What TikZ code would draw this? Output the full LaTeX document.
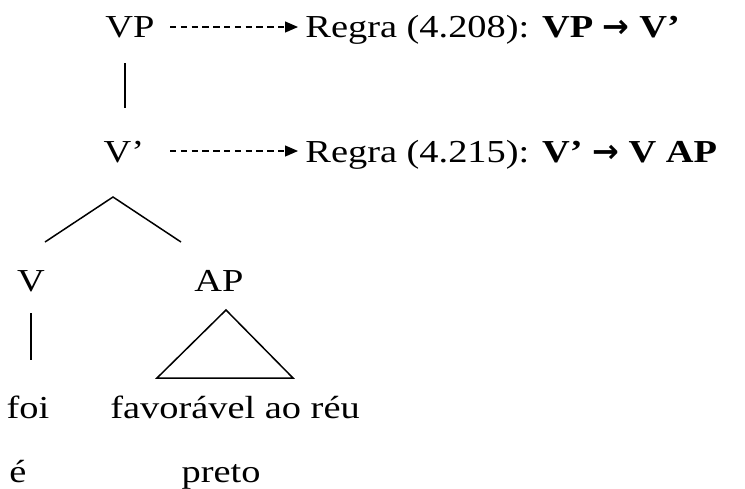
\documentclass[tikz,border=0pt]{standalone}
\usepackage{amsmath}
\usepackage{fontspec}
\setmainfont{Liberation Serif}[FakeStretch=1.2]
\newfontfamily\arrowfont{DejaVu Sans}
\usepackage{tikz}
\usetikzlibrary{arrows.meta}
\usetikzlibrary{calc}

\begin{document}
\begin{tikzpicture}[x=0.5pt,y=-0.5pt,
    lbl/.style={anchor=base, inner sep=0pt,
      font=\fontsize{16}{19}\selectfont},
    rulelbl/.style={lbl, anchor=base west},
    branch/.style={line width=0.75pt},
    rulearrow/.style={line width=0.65pt, dash pattern=on 3.2pt off 2.2pt,
      -{Triangle[length=6.5pt,width=5.5pt]}}]
      \useasboundingbox (0,0) rectangle (745,488);

      % tree labels
      \node[lbl] (vp) at (130,37) {VP};
      \node[lbl] (vbar) at (124,162) {V’};
      \node[lbl] (v) at (31,291) {V};
      \node[lbl] (ap) at (219,291) {AP};
      \node[lbl] (foi) at (28,418) {foi};
      \node[lbl] (fav) at (235,418) {favorável ao réu};
      \node[lbl] (e) at (18,482) {é};
      \node[lbl] (preto) at (221,482) {preto};

      % rules
      \node[rulelbl] (rule1) at (305,37) {Regra (4.208): \textbf{VP {\arrowfont\bfseries →} V’}};
      \node[rulelbl] (rule2) at (305,162) {Regra (4.215): \textbf{V’ {\arrowfont\bfseries →} V AP}};

      % branch points
      \coordinate (vptop) at (125,63);
      \coordinate (vpbot) at (125,108);
      \coordinate (top) at (113,197);
      \coordinate (left) at (45,242);
      \coordinate (right) at (181,242);
      \coordinate (vtop) at (31,313);
      \coordinate (vbot) at (31,360);
      \coordinate (apex) at (226,310);
      \coordinate (baseL) at (157,378);
      \coordinate (baseR) at (293,378);
      \coordinate (from1) at (170,27);
      \coordinate (from2) at (170,151);

      % branches
      \draw[branch] (vptop) -- (vpbot);
      \draw[branch] (left) -- (top) -- (right);
      \draw[branch] (vtop) -- (vbot);
      \draw[branch] (apex) -- (baseL) -- (baseR) -- cycle;

      % dashed arrows to the rules
      \draw[rulearrow] (from1) -- ($(rule1.west |- from1)+(-7,0)$);
      \draw[rulearrow] (from2) -- ($(rule2.west |- from2)+(-7,0)$);
    \end{tikzpicture}
\end{document}
